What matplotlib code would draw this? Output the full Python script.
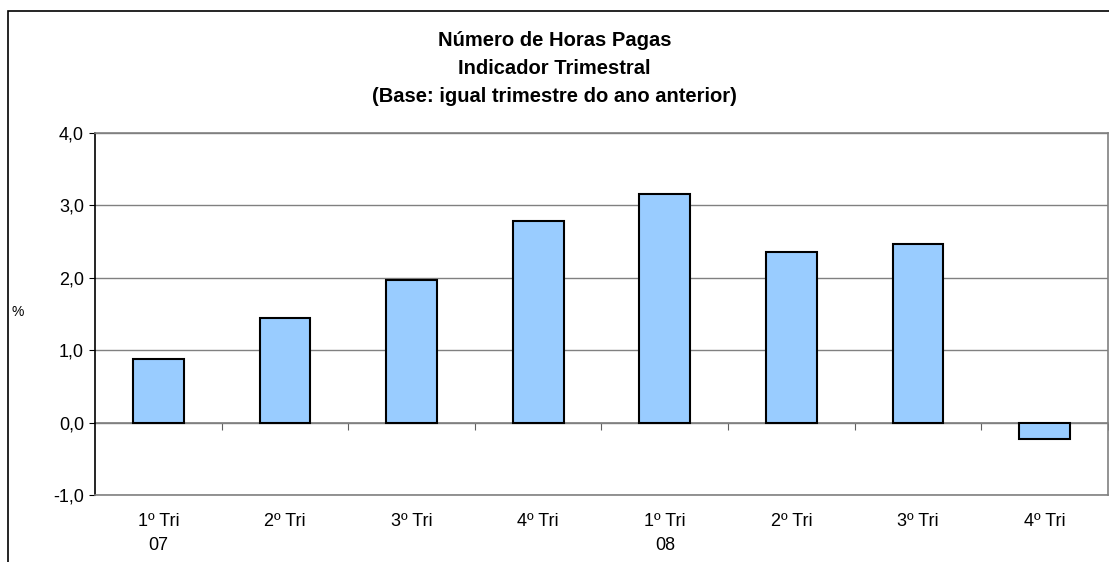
import matplotlib
matplotlib.use("Agg")
import matplotlib.pyplot as plt
from matplotlib.patches import Rectangle

plt.rcParams['font.family'] = ['Liberation Sans', 'DejaVu Sans']

# values (%)
quarters = ["1º Tri\n07", "2º Tri", "3º Tri", "4º Tri", "1º Tri\n08", "2º Tri", "3º Tri", "4º Tri"]
values = [0.88, 1.44, 1.97, 2.79, 3.16, 2.35, 2.47, -0.23]
yticks = [-1, 0, 1, 2, 3, 4]

W, H = 1109, 562
fig = plt.figure(figsize=(W / 100, H / 100), dpi=100)
ax = fig.add_axes([95 / W, 1 - 495 / H, (1108 - 95) / W, (495 - 133) / H])

x = range(len(values))
ax.bar(x, values, width=0.4, color="#99CCFF", edgecolor="black", linewidth=1.5, zorder=3)

ymin, ymax = -1, 4
ax.set_ylim(ymin, ymax)
ax.set_xlim(-0.5, len(values) - 0.5)
ax.set_yticks(yticks)
ax.set_yticklabels([f"{v:.1f}".replace(".", ",") for v in yticks], fontsize=13)
ax.yaxis.grid(True, color="#808080", linewidth=1)
ax.set_axisbelow(True)

ax.set_xticks(list(x))
ax.set_xticklabels(quarters, fontsize=13, linespacing=1.55)
ax.tick_params(axis="x", length=0, pad=13)
ax.tick_params(axis="y", length=4, color="black", direction="out", pad=4)

ax.spines["left"].set_color("black")
ax.spines["left"].set_linewidth(1.2)
for s in ["bottom", "right", "top"]:
    ax.spines[s].set_color("#808080")
    ax.spines[s].set_linewidth(1.2)

# category axis crossing at zero with boundary ticks
zero_frac = (0 - ymin) / (ymax - ymin)
sec = ax.secondary_xaxis(zero_frac)
sec.set_xticks([i + 0.5 for i in range(len(values) - 1)] + [len(values) - 0.5])
sec.tick_params(axis="x", direction="out", length=5, color="#606060", labelbottom=False, labeltop=False)
sec.spines["bottom"].set_color("#808080")
sec.spines["bottom"].set_linewidth(1.2)

fig.text(12 / W, 1 - 312 / H, "%", fontsize=10, ha="left", va="center")

fig.text(0.5, 1 - 41 / H, "Número de Horas Pagas", fontsize=14.5, fontweight="bold", ha="center", va="center")
fig.text(0.5, 1 - 68 / H, "Indicador Trimestral", fontsize=14.5, fontweight="bold", ha="center", va="center")
fig.text(0.5, 1 - 96 / H, "(Base: igual trimestre do ano anterior)", fontsize=14.5, fontweight="bold", ha="center", va="center")

# outer chart frame (bottom and right fall outside the image)
fig.patches.append(Rectangle((8 / W, -0.1), 1.2, 1.1 - 11 / H, transform=fig.transFigure,
                             fill=False, edgecolor="black", linewidth=1.2))

fig.savefig("out.png", dpi=100)
